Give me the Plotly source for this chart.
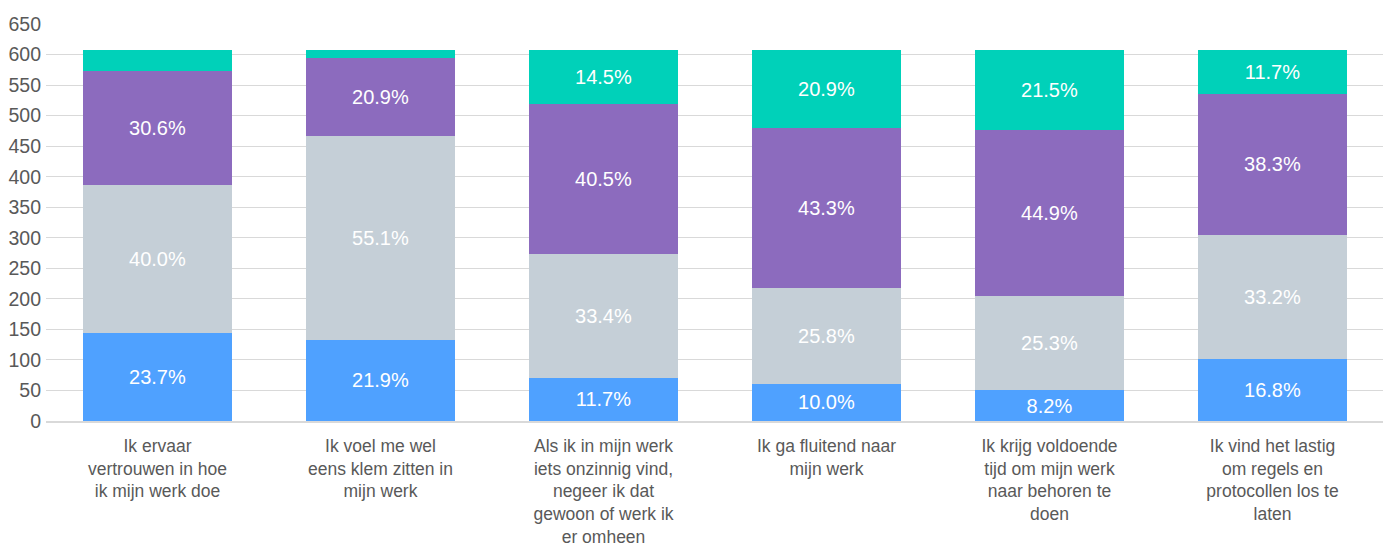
import plotly.graph_objects as go

categories = [
    "Ik ervaar<br>vertrouwen in hoe<br>ik mijn werk doe",
    "Ik voel me wel<br>eens klem zitten in<br>mijn werk",
    "Als ik in mijn werk<br>iets onzinnig vind,<br>negeer ik dat<br>gewoon of werk ik<br>er omheen",
    "Ik ga fluitend naar<br>mijn werk",
    "Ik krijg voldoende<br>tijd om mijn werk<br>naar behoren te<br>doen",
    "Ik vind het lastig<br>om regels en<br>protocollen los te<br>laten",
]

blue_vals = [144, 133, 71, 61, 50, 102]
gray_vals = [243, 334, 203, 156, 154, 202]
purple_vals = [186, 127, 245, 263, 272, 232]
teal_vals = [34, 13, 88, 127, 131, 71]

blue_lbl = ["23.7%", "21.9%", "11.7%", "10.0%", "8.2%", "16.8%"]
gray_lbl = ["40.0%", "55.1%", "33.4%", "25.8%", "25.3%", "33.2%"]
purple_lbl = ["30.6%", "20.9%", "40.5%", "43.3%", "44.9%", "38.3%"]
teal_lbl = ["", "", "14.5%", "20.9%", "21.5%", "11.7%"]

y_ticks = list(range(0, 651, 50))

series = [
    (blue_vals, blue_lbl, "#4FA1FF"),
    (gray_vals, gray_lbl, "#C5CFD7"),
    (purple_vals, purple_lbl, "#8C6BBE"),
    (teal_vals, teal_lbl, "#00D1B9"),
]

FONT = "Liberation Sans, Arial, sans-serif"

fig = go.Figure()
for vals, lbls, col in series:
    fig.add_trace(go.Bar(
        x=categories, y=vals, text=lbls,
        marker=dict(color=col, line=dict(width=0)),
        textposition="inside", insidetextanchor="middle", textangle=0,
        constraintext="none",
        textfont=dict(color="white", size=20, family=FONT),
        hoverinfo="skip", showlegend=False,
    ))

# page body has an 8px margin, so the figure is sized/offset to compensate
fig.update_layout(
    barmode="stack", bargap=0.33,
    width=1383, height=541,
    margin=dict(l=38, r=7, t=16, b=128),
    paper_bgcolor="white", plot_bgcolor="white",
    font=dict(family=FONT, size=18, color="#595959"),
    xaxis=dict(showgrid=False, showline=True, linecolor="#D9D9D9", linewidth=1.5,
               ticks="", automargin=False, ticklabelstandoff=8,
               tickfont=dict(size=17.5, color="#595959")),
    yaxis=dict(range=[0, 650], tickvals=y_ticks, showgrid=True, gridcolor="#D9D9D9",
               gridwidth=1, zeroline=False, ticks="", ticklabelstandoff=4,
               automargin=False,
               tickfont=dict(size=19.5, color="#595959")),
)

fig.write_html("out.html")
